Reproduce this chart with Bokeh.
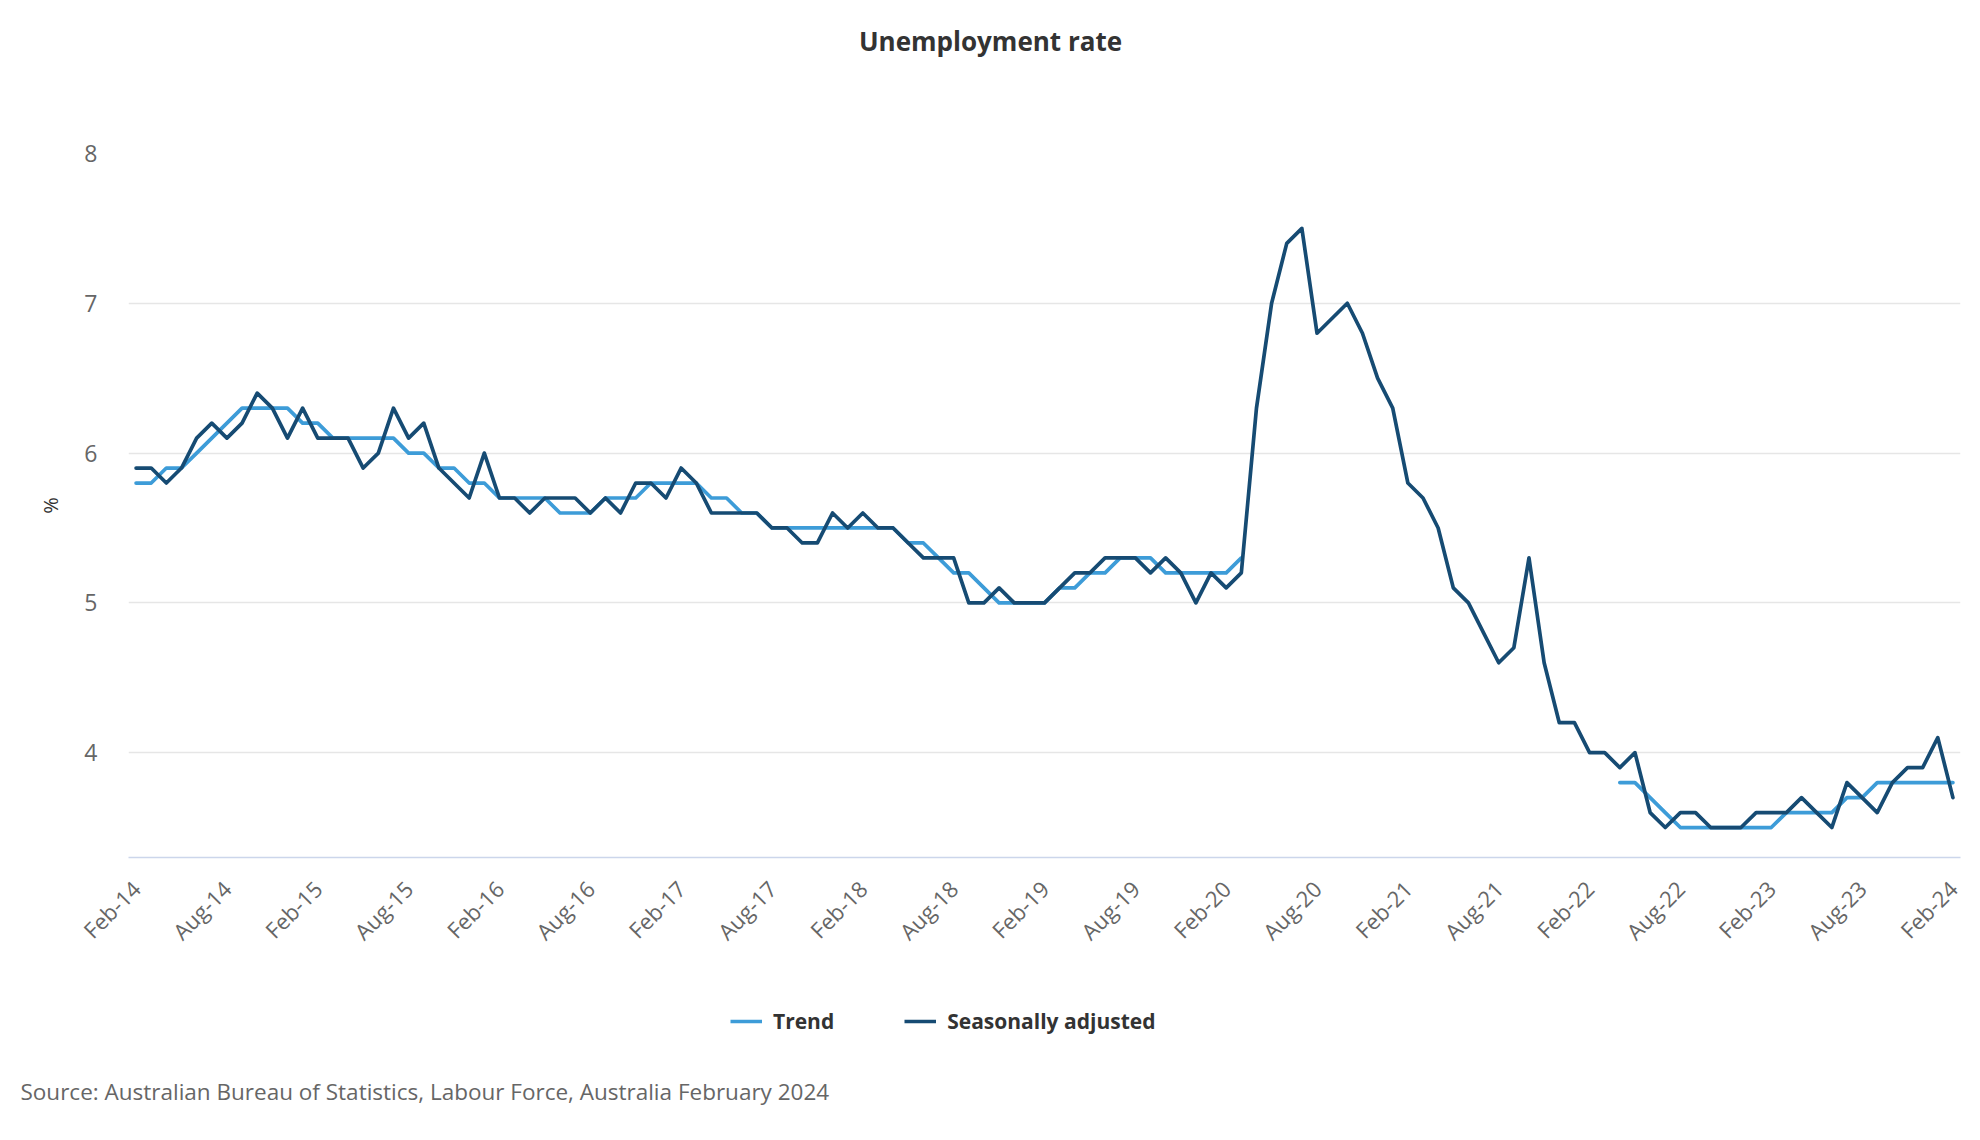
import math
import numpy as np
import pandas as pd
from bokeh.plotting import figure
from bokeh.layouts import column
from bokeh.models import (ColumnDataSource, Range1d, FixedTicker, Label,
                          Legend, LegendItem)
from bokeh.embed import file_html
from bokeh.resources import INLINE

# ---------------- data ----------------
months = list(pd.date_range("2014-02-01", "2024-02-01", freq="MS").strftime("%b-%y"))

seasonally_adjusted = [
    5.9, 5.9, 5.8, 5.9, 6.1, 6.2, 6.1, 6.2, 6.4, 6.3, 6.1, 6.3,   # Feb-14 .. Jan-15
    6.1, 6.1, 6.1, 5.9, 6.0, 6.3, 6.1, 6.2, 5.9, 5.8, 5.7, 6.0,   # Feb-15 .. Jan-16
    5.7, 5.7, 5.6, 5.7, 5.7, 5.7, 5.6, 5.7, 5.6, 5.8, 5.8, 5.7,   # Feb-16 .. Jan-17
    5.9, 5.8, 5.6, 5.6, 5.6, 5.6, 5.5, 5.5, 5.4, 5.4, 5.6, 5.5,   # Feb-17 .. Jan-18
    5.6, 5.5, 5.5, 5.4, 5.3, 5.3, 5.3, 5.0, 5.0, 5.1, 5.0, 5.0,   # Feb-18 .. Jan-19
    5.0, 5.1, 5.2, 5.2, 5.3, 5.3, 5.3, 5.2, 5.3, 5.2, 5.0, 5.2,   # Feb-19 .. Jan-20
    5.1, 5.2, 6.3, 7.0, 7.4, 7.5, 6.8, 6.9, 7.0, 6.8, 6.5, 6.3,   # Feb-20 .. Jan-21
    5.8, 5.7, 5.5, 5.1, 5.0, 4.8, 4.6, 4.7, 5.3, 4.6, 4.2, 4.2,   # Feb-21 .. Jan-22
    4.0, 4.0, 3.9, 4.0, 3.6, 3.5, 3.6, 3.6, 3.5, 3.5, 3.5, 3.6,   # Feb-22 .. Jan-23
    3.6, 3.6, 3.7, 3.6, 3.5, 3.8, 3.7, 3.6, 3.8, 3.9, 3.9, 4.1,   # Feb-23 .. Jan-24
    3.7,                                                          # Feb-24
]

N = None
trend = [
    5.8, 5.8, 5.9, 5.9, 6.0, 6.1, 6.2, 6.3, 6.3, 6.3, 6.3, 6.2,
    6.2, 6.1, 6.1, 6.1, 6.1, 6.1, 6.0, 6.0, 5.9, 5.9, 5.8, 5.8,
    5.7, 5.7, 5.7, 5.7, 5.6, 5.6, 5.6, 5.7, 5.7, 5.7, 5.8, 5.8,
    5.8, 5.8, 5.7, 5.7, 5.6, 5.6, 5.5, 5.5, 5.5, 5.5, 5.5, 5.5,
    5.5, 5.5, 5.5, 5.4, 5.4, 5.3, 5.2, 5.2, 5.1, 5.0, 5.0, 5.0,
    5.0, 5.1, 5.1, 5.2, 5.2, 5.3, 5.3, 5.3, 5.2, 5.2, 5.2, 5.2,
    5.2, 5.3, N, N, N, N, N, N, N, N, N, N,
    N, N, N, N, N, N, N, N, N, N, N, N,
    N, N, 3.8, 3.8, 3.7, 3.6, 3.5, 3.5, 3.5, 3.5, 3.5, 3.5,
    3.5, 3.6, 3.6, 3.6, 3.6, 3.7, 3.7, 3.8, 3.8, 3.8, 3.8, 3.8,
    3.8,
]

x_tick_positions = list(range(0, len(months), 6))
y_ticks = [4, 5, 6, 7, 8]

title_text = "Unemployment rate"
source_text = "Source: Australian Bureau of Statistics, Labour Force, Australia February 2024"
series_names = ["Trend", "Seasonally adjusted"]
series_colors = ["#3d9cd8", "#164b73"]

FONT = "Open Sans"
W = 1972
LW = 3.7

# ---------------- title strip ----------------
TH = 120
pt = figure(width=W, height=TH, output_backend="svg", toolbar_location=None,
            x_range=Range1d(0, W), y_range=Range1d(0, TH),
            x_axis_location=None, y_axis_location=None,
            min_border=0, outline_line_color=None, frame_align=False)
pt.grid.visible = False
pt.add_layout(Label(x=990, y=TH - 40, x_units="screen", y_units="screen",
                    text=title_text, text_font=FONT, text_font_style="bold",
                    text_font_size="26px", text_color="#333333",
                    text_align="center", text_baseline="middle"))

# ---------------- main chart ----------------
src = ColumnDataSource(dict(
    x=list(range(len(months))),
    sa=[float(v) for v in seasonally_adjusted],
    trend=[np.nan if v is None else float(v) for v in trend],
))

MH = 860  # page 120 .. 980
p = figure(width=W, height=MH, output_backend="svg", toolbar_location=None,
           x_range=Range1d(-0.5, len(months) - 0.5), y_range=Range1d(3.3, 8.0),
           min_border_left=128, min_border_right=12, min_border_top=153 - TH,
           min_border_bottom=TH + MH - 857)
p.outline_line_color = None
p.background_fill_color = "white"
p.border_fill_color = "white"

xa = p.xaxis[0]
xa.ticker = FixedTicker(ticks=x_tick_positions)
xa.major_label_overrides = {i: months[i] for i in x_tick_positions}
xa.major_label_orientation = math.pi / 4
xa.major_tick_line_color = None
xa.minor_tick_line_color = None
xa.axis_line_color = "#ccd6eb"
xa.axis_line_width = 1.5
xa.major_label_text_font = FONT
xa.major_label_text_font_size = "22px"
xa.major_label_text_color = "#666666"
xa.major_label_standoff = 21

ya = p.yaxis[0]
ya.ticker = FixedTicker(ticks=y_ticks)
ya.major_tick_line_color = None
ya.minor_tick_line_color = None
ya.axis_line_color = None
ya.major_label_text_font = FONT
ya.major_label_text_font_size = "23px"
ya.major_label_text_color = "#666666"
ya.major_label_standoff = 25
ya.axis_label = "%"
ya.axis_label_text_font = FONT
ya.axis_label_text_font_style = "normal"
ya.axis_label_text_font_size = "20px"
ya.axis_label_text_color = "#333333"
ya.axis_label_standoff = 17

p.xgrid.visible = False
p.ygrid.ticker = FixedTicker(ticks=y_ticks)
p.ygrid.grid_line_color = "#e6e6e6"
p.ygrid.grid_line_width = 1.3

p.line("x", "trend", source=src, line_color=series_colors[0],
       line_width=LW, line_join="round", line_cap="round")
p.line("x", "sa", source=src, line_color=series_colors[1],
       line_width=LW, line_join="round", line_cap="round")

# ---------------- legend + source strip ----------------
BH = 1130 - (TH + MH)  # 150
pb = figure(width=W, height=BH, output_backend="svg", toolbar_location=None,
            x_range=Range1d(0, W), y_range=Range1d(0, BH),
            x_axis_location=None, y_axis_location=None,
            min_border=0, outline_line_color=None, frame_align=False)
pb.grid.visible = False
# legend proxies carrying the styles of the two series (no visible data)
k_trend = pb.line(x=[np.nan], y=[np.nan], line_color=series_colors[0], line_width=LW)
k_sa = pb.line(x=[np.nan], y=[np.nan], line_color=series_colors[1], line_width=LW)
legend = Legend(items=[LegendItem(label=series_names[0], renderers=[k_trend]),
                       LegendItem(label=series_names[1], renderers=[k_sa])],
                orientation="horizontal", location=(730, BH - 55),
                border_line_color=None, background_fill_alpha=0,
                label_text_font=FONT, label_text_font_style="bold",
                label_text_font_size="21px", label_text_color="#333333",
                glyph_width=32, glyph_height=20, label_height=20,
                label_standoff=11, spacing=70, padding=0, margin=0)
pb.add_layout(legend)
pb.add_layout(Label(x=20, y=1130 - 1091, x_units="screen", y_units="screen",
                    text=source_text, text_font=FONT, text_font_style="normal",
                    text_font_size="22.5px", text_color="#666666",
                    text_align="left", text_baseline="middle"))

layout = column(pt, p, pb, spacing=0)
open("out.html", "w").write(file_html(layout, INLINE))
